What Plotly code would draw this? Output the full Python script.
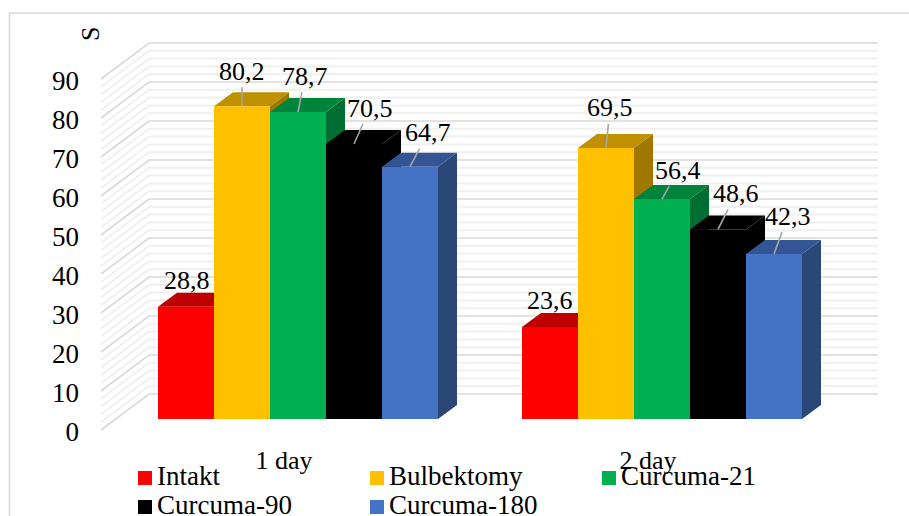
import plotly.graph_objects as go

W, H = 909, 516
categories = ["1 day", "2 day"]
series_names = ["Intakt", "Bulbektomy", "Curcuma-21", "Curcuma-90", "Curcuma-180"]
intakt = [28.8, 23.6]
bulbektomy = [80.2, 69.5]
curcuma_21 = [78.7, 56.4]
curcuma_90 = [70.5, 48.6]
curcuma_180 = [64.7, 42.3]
series_values = [intakt, bulbektomy, curcuma_21, curcuma_90, curcuma_180]
y_ticks = [0, 10, 20, 30, 40, 50, 60, 70, 80, 90]
minor_ticks = [v for v in range(0, 91, 2) if v % 10]
y_title = "S"

front_colors = ["#FF0000", "#FFC000", "#00B050", "#000000", "#4472C4"]
top_colors = ["#BF0000", "#BF9000", "#00843C", "#000000", "#335593"]
side_colors = ["#A00000", "#A07800", "#006E32", "#000000", "#2B4775"]

# label offsets in pixels from the top centre of each bar (ax, ay, leader line?)
label_offsets = [
    [(1, -26, False), (0, -26, False)],
    [(0, -35, True), (4, -40, True)],
    [(7, -36, True), (16, -29, True)],
    [(16, -36, True), (18, -36, True)],
    [(18, -34, True), (14, -38, True)],
]
# legend swatch centres, in pixels of the picture
legend_px = [(145, 478), (377, 478), (609, 478), (145, 507), (377, 507)]

PX_PER_UNIT = 3.9
PX_PER_CAT = 364.0
BASE_PX, C0_PX = 419.0, 298.0
BAR_W = 56 / PX_PER_CAT
DX, DY = 19 / PX_PER_CAT, 14 / PX_PER_UNIT
x_range = [(0 - C0_PX) / PX_PER_CAT, (W - C0_PX) / PX_PER_CAT]
y_range = [(BASE_PX - H) / PX_PER_UNIT, BASE_PX / PX_PER_UNIT]

# front plane of the box: axis labels live here
TICK_ZERO_PX, TICK_C0_PX = 432.0, 284.0
x3_range = [(0 - TICK_C0_PX) / PX_PER_CAT, (W - TICK_C0_PX) / PX_PER_CAT]
y3_range = [(TICK_ZERO_PX - H) / PX_PER_UNIT, TICK_ZERO_PX / PX_PER_UNIT]

# box corners in bar-plane units
FRONT_X = (101 - C0_PX) / PX_PER_CAT
BACK_X = (149 - C0_PX) / PX_PER_CAT
RIGHT_X = (878 - C0_PX) / PX_PER_CAT
FRONT_DV = (BASE_PX - 430) / PX_PER_UNIT
BACK_DV = (BASE_PX - 394) / PX_PER_UNIT

FONT = "Liberation Serif"
FS = 26
FS_BIG = 27
fig = go.Figure()


def wall_line(v, color, width):
    fig.add_trace(go.Scatter(
        x=[FRONT_X, BACK_X, RIGHT_X],
        y=[v + FRONT_DV, v + BACK_DV, v + BACK_DV],
        mode="lines", line=dict(color=color, width=width),
        hoverinfo="skip", showlegend=False, xaxis="x", yaxis="y"))


for v in minor_ticks:
    wall_line(v, "#F0F0F0", 2)
for v in y_ticks:
    wall_line(v, "#D9D9D9", 1.6)

n = len(series_names)
for c in range(len(categories)):
    for s in range(n):
        v = series_values[s][c]
        xl = c + (s - n / 2) * BAR_W
        xr = xl + BAR_W
        fig.add_trace(go.Scatter(
            x=[xr, xr + DX, xr + DX, xr, xr], y=[0, DY, v + DY, v, 0],
            mode="lines", fill="toself", fillcolor=side_colors[s],
            line=dict(width=0), hoverinfo="skip", showlegend=False,
            xaxis="x", yaxis="y"))
        fig.add_trace(go.Scatter(
            x=[xl, xl + DX, xr + DX, xr, xl], y=[v, v + DY, v + DY, v, v],
            mode="lines", fill="toself", fillcolor=top_colors[s],
            line=dict(width=0), hoverinfo="skip", showlegend=False,
            xaxis="x", yaxis="y"))

for s in range(n):
    fig.add_trace(go.Bar(
        x=[0, 1], y=series_values[s], name=series_names[s],
        marker=dict(color=front_colors[s], line=dict(width=0)),
        showlegend=False, xaxis="x2", yaxis="y2"))

# invisible trace so that the tick axes exist
fig.add_trace(go.Scatter(x=[0, 1], y=[0, 90], mode="markers", marker=dict(opacity=0),
                         hoverinfo="skip", showlegend=False, xaxis="x3", yaxis="y3"))

# legend entries: two tightly spaced rows, overlapping the axis label as in the picture
for s in range(n):
    lx, ly = legend_px[s]
    px_y = (BASE_PX - ly) / PX_PER_UNIT
    fig.add_trace(go.Scatter(
        x=[(lx - C0_PX) / PX_PER_CAT], y=[px_y], mode="markers", name=series_names[s],
        marker=dict(symbol="square", size=14, color=front_colors[s], line=dict(width=0)),
        hoverinfo="skip", showlegend=False, xaxis="x2", yaxis="y2"))
    fig.add_trace(go.Scatter(
        x=[(lx + 12 - C0_PX) / PX_PER_CAT], y=[px_y], mode="text", text=[series_names[s]],
        textposition="middle right",
        textfont=dict(family=FONT, size=FS_BIG, color="#000000"),
        hoverinfo="skip", showlegend=False, xaxis="x2", yaxis="y2"))

annotations = []
for s in range(n):
    for c in range(len(categories)):
        v = series_values[s][c]
        ax, ay, leader = label_offsets[s][c]
        xc = c + (s - (n - 1) / 2) * BAR_W
        text = f"{v:.1f}".replace(".", ",")
        common = dict(x=xc, y=v, xref="x2", yref="y2", text=text,
                      font=dict(family=FONT, size=FS, color="#000000"))
        if leader:
            annotations.append(dict(common, showarrow=True, ax=ax, ay=ay, axref="pixel", ayref="pixel",
                                    arrowhead=0, arrowwidth=1.6, arrowcolor="#A6A6A6", standoff=0))
        else:
            annotations.append(dict(common, showarrow=False, xshift=ax, yshift=-ay))
annotations.append(dict(x=90 / W, y=1 - 34 / H, xref="paper", yref="paper", text=y_title,
                        xanchor="center", yanchor="middle",
                        textangle=-90, showarrow=False,
                        font=dict(family=FONT, size=FS, color="#000000")))

hidden = dict(visible=False, fixedrange=True)
fig.update_layout(
    width=W, height=H, autosize=False,
    margin=dict(l=0, r=0, t=0, b=0),
    paper_bgcolor="#FFFFFF", plot_bgcolor="rgba(0,0,0,0)",
    barmode="group", bargap=84 / 364, bargroupgap=0,
    xaxis=dict(hidden, range=x_range, domain=[0, 1]),
    yaxis=dict(hidden, range=y_range, domain=[0, 1]),
    xaxis2=dict(hidden, range=x_range, domain=[0, 1], overlaying="x", anchor="y2"),
    yaxis2=dict(hidden, range=y_range, domain=[0, 1], overlaying="y", anchor="x2"),
    xaxis3=dict(range=x3_range, overlaying="x", anchor="free", position=1 - 430 / H,
                tickvals=[0, 1], ticktext=categories, showgrid=False, zeroline=False,
                showline=False, ticks="", ticklabelstandoff=12,
                tickfont=dict(family=FONT, size=FS, color="#000000")),
    yaxis3=dict(range=y3_range, overlaying="y", anchor="free", position=79 / W, side="left",
                tickvals=y_ticks, showgrid=False, zeroline=False, showline=False, ticks="",
                tickfont=dict(family=FONT, size=FS_BIG, color="#000000")),
    showlegend=False,
    annotations=annotations,
    shapes=[dict(type="path", xref="paper", yref="paper",
                 path=f"M {9.5 / W},0 L {9.5 / W},{1 - 13 / H} L 1,{1 - 13 / H}",
                 line=dict(color="#D9D9D9", width=1.5))],
)
fig.write_html("out.html", config=dict(displayModeBar=False),
               post_script="document.body.style.margin='0';")
